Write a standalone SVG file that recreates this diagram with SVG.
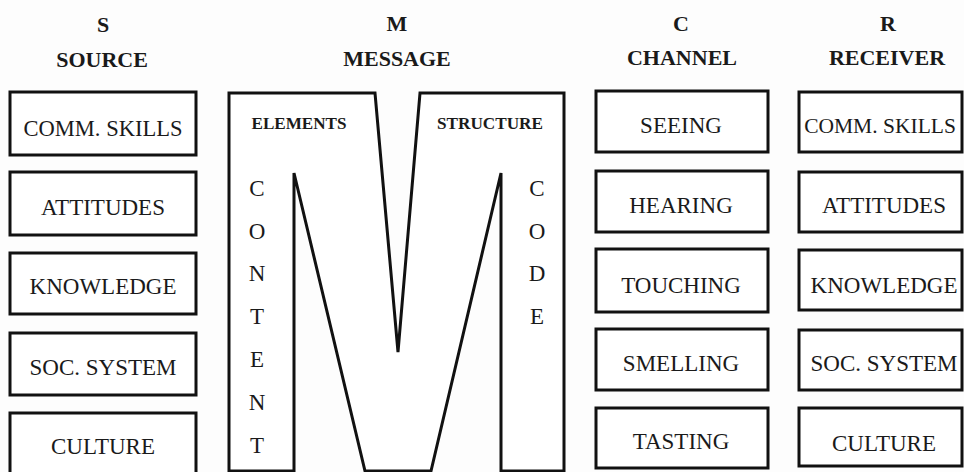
<svg xmlns="http://www.w3.org/2000/svg" width="964" height="472" viewBox="0 0 964 472">
<style>
.bg{fill:#fdfdfd}
.box{fill:#ffffff;stroke:#111;stroke-width:3}
.hd{font-family:"Liberation Serif","DejaVu Serif",serif;font-weight:bold;font-size:22px;fill:#1a1a1a;text-anchor:middle}
.t{font-family:"Liberation Serif","DejaVu Serif",serif;font-size:23px;fill:#1a1a1a;text-anchor:middle}
.sm{font-family:"Liberation Serif","DejaVu Serif",serif;font-weight:bold;font-size:17px;fill:#1a1a1a;text-anchor:middle}
.v{font-family:"Liberation Serif","DejaVu Serif",serif;font-size:23px;fill:#1a1a1a;text-anchor:middle}
</style>
<rect class="bg" x="0" y="0" width="964" height="472"/>
<g id="headers">
<text class="hd" x="103" y="32">S</text>
<text class="hd" x="102" y="67">SOURCE</text>
<text class="hd" x="397" y="31">M</text>
<text class="hd" x="397" y="66">MESSAGE</text>
<text class="hd" x="681" y="31">C</text>
<text class="hd" x="682" y="65">CHANNEL</text>
<text class="hd" x="888" y="31">R</text>
<text class="hd" x="887" y="65">RECEIVER</text>
</g>
<g id="source">
<g id="s1"><rect class="box" x="10" y="92" width="186" height="63"/><text class="t" x="103" y="136" textLength="159" lengthAdjust="spacingAndGlyphs">COMM. SKILLS</text></g>
<g id="s2"><rect class="box" x="10" y="172" width="186" height="63"/><text class="t" x="103" y="215">ATTITUDES</text></g>
<g id="s3"><rect class="box" x="10" y="253" width="186" height="61"/><text class="t" x="103" y="294">KNOWLEDGE</text></g>
<g id="s4"><rect class="box" x="10" y="333" width="186" height="62"/><text class="t" x="103" y="375">SOC. SYSTEM</text></g>
<g id="s5"><rect class="box" x="10" y="413" width="186" height="64"/><text class="t" x="103" y="454">CULTURE</text></g>
</g>
<g id="message">
<path class="box" d="M229,93 L375,93 L398,352 L420,93 L564,93 L564,471 L501,471 L501,173 L431,471 L365,471 L294,173 L294,471 L229,471 Z" stroke-linejoin="miter"/>
<text class="sm" x="299" y="129" textLength="95" lengthAdjust="spacingAndGlyphs">ELEMENTS</text>
<text class="sm" x="490" y="129" textLength="106" lengthAdjust="spacingAndGlyphs">STRUCTURE</text>
<text class="v" x="257" y="196">C</text>
<text class="v" x="257" y="239">O</text>
<text class="v" x="257" y="281">N</text>
<text class="v" x="257" y="324">T</text>
<text class="v" x="257" y="367">E</text>
<text class="v" x="257" y="410">N</text>
<text class="v" x="257" y="453">T</text>
<text class="v" x="537" y="196">C</text>
<text class="v" x="537" y="239">O</text>
<text class="v" x="537" y="281">D</text>
<text class="v" x="537" y="324">E</text>
</g>
<g id="channel">
<g id="c1"><rect class="box" x="596" y="91" width="172" height="61"/><text class="t" x="681" y="133">SEEING</text></g>
<g id="c2"><rect class="box" x="596" y="171" width="172" height="61"/><text class="t" x="681" y="213">HEARING</text></g>
<g id="c3"><rect class="box" x="596" y="249" width="172" height="63"/><text class="t" x="681" y="293">TOUCHING</text></g>
<g id="c4"><rect class="box" x="596" y="329" width="172" height="61"/><text class="t" x="681" y="371">SMELLING</text></g>
<g id="c5"><rect class="box" x="596" y="408" width="172" height="60"/><text class="t" x="681" y="449">TASTING</text></g>
</g>
<g id="receiver">
<g id="r1"><rect class="box" x="799" y="92" width="163" height="60"/><text class="t" x="880" y="133" style="font-size:21.5px">COMM. SKILLS</text></g>
<g id="r2"><rect class="box" x="799" y="172" width="163" height="60"/><text class="t" x="884" y="213">ATTITUDES</text></g>
<g id="r3"><rect class="box" x="799" y="250" width="163" height="60"/><text class="t" x="884" y="293">KNOWLEDGE</text></g>
<g id="r4"><rect class="box" x="799" y="330" width="163" height="60"/><text class="t" x="884" y="371">SOC. SYSTEM</text></g>
<g id="r5"><rect class="box" x="799" y="408" width="163" height="58"/><text class="t" x="884" y="451">CULTURE</text></g>
</g>
</svg>
